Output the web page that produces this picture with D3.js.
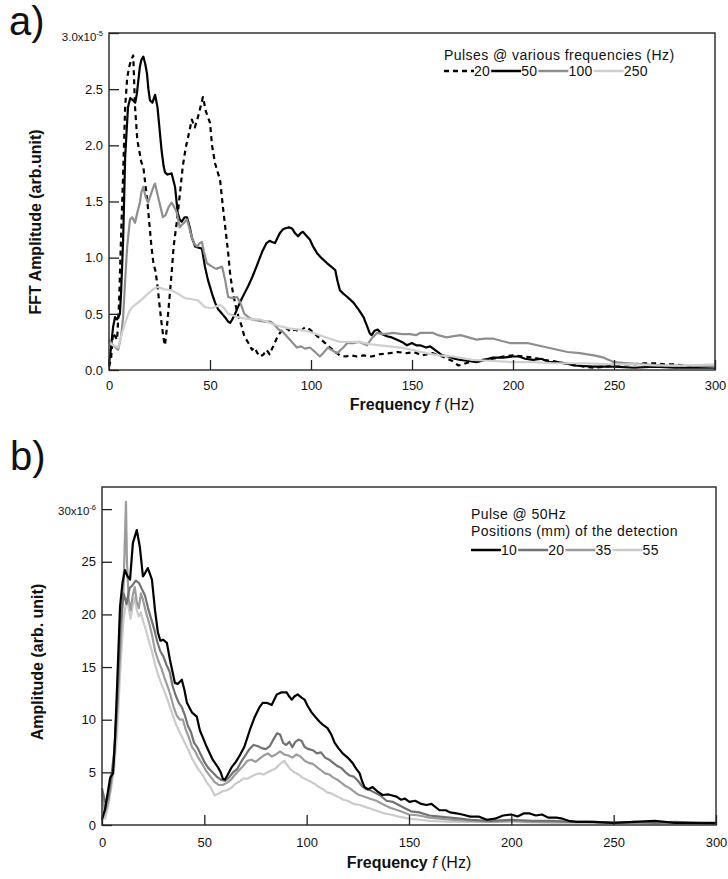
<!DOCTYPE html>
<html><head><meta charset="utf-8">
<script src="https://cdn.jsdelivr.net/npm/d3@7"></script>
<style>body{margin:0;background:#fff}svg{display:block}text{font-family:Arial,"Liberation Sans",sans-serif}</style>
</head><body>
<svg id="c" width="728" height="879"></svg>
<script>
// ---------- DATA ----------
const freqTicks = [0, 50, 100, 150, 200, 250, 300];
const ampTicksA = [0, 0.5, 1.0, 1.5, 2.0, 2.5, 3.0];   // x1e-5
const ampTicksB = [0, 5, 10, 15, 20, 25, 30];          // x1e-6

const legendA = ["20", "50", "100", "250"];
const legendB = ["10", "20", "35", "55"];

// Panel a) FFT amplitude (x1e-5) for pulses at various frequencies
const pulse20 = [[0,0.03],[1,0.1],[2,0.33],[3,0.3],[4,0.27],[5,0.6],[6,1.2],[7,1.75],[8,2.34],[9,2.6],[10,2.7],[11,2.76],[12,2.8],[12.9,2.34],[14,2.05],[15,1.95],[16,1.85],[17,1.81],[18,1.65],[19,1.5],[20,1.3],[21,1.1],[22,0.95],[23,0.88],[24,0.75],[25,0.58],[26,0.42],[27,0.28],[27.7,0.22],[28.5,0.35],[29.5,0.55],[31,0.86],[32,1.1],[33.5,1.31],[35,1.55],[36.5,1.81],[38,1.98],[39.5,2.1],[41,2.23],[42.5,2.16],[44,2.25],[45,2.32],[46.5,2.43],[48,2.3],[50,2.2],[51,2.0],[52.5,1.84],[54,1.75],[55,1.69],[56.4,1.45],[58,1.2],[59,1.04],[60,0.85],[61.4,0.68],[63,0.55],[64,0.48],[65.5,0.4],[67,0.3],[69,0.24],[70.8,0.18],[72,0.2],[73.5,0.15],[75,0.12],[76.5,0.14],[78,0.18],[79.5,0.14],[81,0.2],[83,0.28],[84.6,0.33],[86,0.36],[88,0.37],[90,0.34],[92,0.36],[94.5,0.34],[97,0.38],[99.5,0.36],[102,0.32],[104.4,0.28],[107,0.24],[109.4,0.2],[112,0.16],[114.3,0.13],[117,0.12],[120,0.13],[122.8,0.12],[126,0.13],[130,0.12],[134,0.14],[139,0.15],[143,0.16],[147.5,0.15],[151,0.16],[155,0.13],[160,0.15],[165,0.12],[170,0.08],[173,0.04],[175,0.05],[180,0.08],[185,0.09],[190,0.1],[195,0.12],[200,0.13],[205,0.12],[210,0.11],[215,0.09],[220,0.08],[225,0.06],[230,0.05],[235,0.03],[240,0.02],[245,0.03],[250,0.04],[255,0.05],[260,0.05],[265,0.06],[270,0.06],[275,0.05],[280,0.05],[285,0.04],[290,0.03],[295,0.03],[300,0.02]];
const pulse50 = [[0,0.05],[1,0.2],[2,0.38],[3,0.47],[4,0.45],[5.4,0.5],[6,0.7],[7,1.16],[8,1.9],[9.4,2.34],[10.5,2.42],[12,2.4],[13,2.38],[13.8,2.46],[15.3,2.7],[16,2.76],[17,2.79],[18,2.72],[18.8,2.64],[19.5,2.5],[20.3,2.4],[21.5,2.38],[22.8,2.45],[24,2.34],[25,2.15],[26,1.96],[27,1.82],[27.7,1.76],[29,1.74],[31,1.75],[32.7,1.63],[34,1.4],[35,1.34],[36,1.32],[37.5,1.36],[38.6,1.36],[40,1.27],[41,1.18],[42.6,1.1],[44,1.09],[46,1.08],[47.5,0.92],[49,0.8],[51,0.68],[52.5,0.6],[54,0.54],[56,0.5],[57.4,0.47],[59,0.43],[60,0.42],[61,0.45],[62.4,0.5],[64.8,0.6],[67,0.68],[69,0.75],[71,0.83],[73,0.92],[74.7,1.0],[76,1.06],[78,1.13],[79.5,1.15],[80.7,1.14],[82.2,1.13],[83.5,1.18],[84.6,1.22],[86,1.25],[87,1.26],[89,1.27],[90.6,1.26],[92,1.22],[93.6,1.19],[95,1.22],[96,1.23],[97.5,1.2],[99.5,1.16],[101,1.1],[103,1.04],[105,1.0],[108,0.95],[110,0.92],[112,0.89],[113,0.8],[114.3,0.71],[116,0.68],[118,0.65],[121,0.6],[123.5,0.54],[126,0.47],[128,0.38],[129,0.33],[130,0.31],[131.5,0.35],[133,0.36],[135,0.32],[137.6,0.3],[140,0.29],[142.6,0.27],[145,0.25],[147.5,0.22],[150,0.24],[152,0.22],[154,0.22],[157,0.2],[159,0.21],[162,0.17],[165,0.13],[168,0.12],[171,0.1],[174,0.09],[178,0.08],[182,0.07],[186,0.09],[190,0.11],[195,0.11],[200,0.12],[203,0.12],[206,0.1],[210,0.09],[214,0.1],[218,0.07],[222,0.07],[226,0.06],[230,0.04],[240,0.03],[250,0.03],[260,0.02],[270,0.03],[280,0.02],[290,0.02],[300,0.02]];
const pulse100 = [[0,0.27],[2,0.22],[4.5,0.18],[6,0.3],[7,0.47],[8,0.8],[9,1.1],[10.4,1.34],[11.5,1.36],[12.9,1.31],[14,1.4],[15.3,1.49],[16,1.58],[17,1.63],[18,1.55],[19.3,1.49],[20.5,1.55],[21.8,1.62],[22.8,1.66],[24.3,1.54],[25.5,1.45],[26.7,1.36],[28,1.38],[29.5,1.45],[31,1.49],[32.3,1.45],[33.6,1.4],[35,1.27],[36.5,1.3],[38.6,1.34],[40,1.25],[41,1.18],[42.3,1.12],[43.6,1.1],[45,1.13],[46,1.14],[47,1.05],[48.5,0.95],[51,0.92],[53,0.9],[56,0.92],[57.5,0.8],[59,0.65],[61,0.64],[63.4,0.65],[65,0.6],[67,0.5],[69,0.47],[70.8,0.45],[74,0.44],[77,0.43],[80,0.43],[82,0.4],[84,0.36],[86,0.34],[88,0.3],[90,0.26],[93,0.2],[95,0.21],[97,0.19],[99.5,0.2],[102,0.16],[104.4,0.12],[106,0.15],[108.4,0.2],[110,0.18],[113,0.15],[116,0.2],[118,0.24],[121,0.24],[124,0.25],[127.7,0.22],[130,0.28],[132.7,0.33],[136,0.32],[140.6,0.33],[145,0.32],[149,0.32],[152,0.31],[154,0.33],[157,0.33],[160.4,0.33],[163,0.31],[167,0.29],[170,0.3],[174,0.31],[178,0.29],[182,0.27],[186,0.28],[190,0.28],[194,0.26],[198.5,0.24],[203,0.24],[207,0.24],[212,0.22],[217,0.2],[222,0.18],[227,0.16],[233,0.15],[240,0.13],[245,0.11],[250,0.07],[257,0.06],[265,0.05],[275,0.04],[285,0.04],[300,0.03]];
const pulse250 = [[0,0.24],[2,0.22],[4.5,0.2],[6,0.3],[8,0.42],[10,0.52],[11.4,0.56],[14.4,0.6],[17,0.64],[19.3,0.68],[22,0.72],[24.3,0.74],[27,0.72],[31,0.71],[34,0.68],[37.6,0.64],[41,0.63],[44,0.62],[47.5,0.56],[51,0.55],[55,0.58],[57,0.55],[59,0.5],[61,0.49],[63.8,0.47],[67,0.46],[70.8,0.45],[74.7,0.45],[78,0.43],[81,0.41],[84.6,0.39],[89,0.37],[94.5,0.36],[99,0.34],[104.4,0.31],[109,0.28],[114.3,0.25],[119,0.25],[124,0.25],[129,0.23],[134,0.22],[139,0.21],[144,0.2],[150,0.18],[157,0.15],[163,0.13],[170,0.12],[180,0.09],[190,0.08],[200,0.07],[210,0.07],[220,0.06],[235,0.06],[250,0.05],[260,0.05],[270,0.04],[285,0.04],[300,0.05]];

// Panel b) amplitude (x1e-6) at detection positions, pulse 50 Hz
const pos10 = [[0,0.5],[1.5,1.5],[3,3.3],[4,4.5],[5.4,4.9],[6.3,8],[7.3,12.8],[8.8,20.7],[10,23],[11.2,24.2],[12.5,23.6],[13.7,23.3],[15.1,26.8],[17,28],[18.5,26.4],[20,23.6],[21,23.9],[22.4,24.4],[24.4,23.3],[25.9,20.4],[27.3,18.3],[28.5,17.5],[29.8,17.6],[31.7,17.3],[33.2,15.7],[35.6,13.5],[37,13.4],[39,13.8],[40.3,12.8],[41.5,11.6],[43.9,10.7],[46.3,10.3],[47.8,9.0],[49.5,8.2],[51.2,7.4],[54.1,6.2],[56.6,5.5],[58,5],[59,4.4],[60,4.3],[61.5,4.8],[63.4,5.5],[65.4,6.0],[67.3,6.6],[69.5,7.4],[72.2,9.0],[74.5,10.2],[77,11.2],[78.5,11.6],[80.5,11.6],[82.9,11.4],[85.4,12.4],[87.8,12.6],[90.2,12.6],[91.5,12.2],[92.7,11.9],[94,12.2],[95.6,12.4],[97.5,12.1],[99,11.9],[100.5,11.3],[102.4,10.7],[104.5,10.2],[106.3,9.8],[108,9.5],[110.2,9.2],[112,8.6],[113.7,7.8],[115.5,7.3],[117.6,6.8],[120,6.4],[122.4,5.9],[124,5.4],[125.9,4.9],[127,4.2],[128.3,3.6],[130,3.4],[132.2,3.6],[134.5,3.2],[137.1,2.85],[140,2.9],[143.9,2.7],[146,2.4],[148,2.5],[150.2,2.2],[153,2.3],[156,2.0],[158.5,1.9],[161,2.0],[164.9,1.4],[168,1.4],[170,1.2],[173.2,1.1],[176,1.0],[180,0.8],[184,0.8],[188,0.5],[192,0.6],[196,0.9],[200,1.0],[203,0.8],[206,1.1],[209,1.1],[212,0.9],[215,1.0],[218,0.7],[222,0.7],[225,0.6],[228,0.4],[232,0.3],[240,0.3],[250,0.2],[260,0.3],[270,0.4],[275,0.3],[280,0.2],[290,0.2],[300,0.2]];
const pos20 = [[0,3.5],[1.5,2.2],[3,2.5],[4.5,4.5],[6,7],[7.5,12],[9,19],[10.5,22],[12,21],[13.5,22.5],[15,22.8],[16.5,23.2],[18,23],[19.5,22.4],[21,21.8],[22.5,20.6],[24,19.6],[25.5,18.6],[27,17.4],[28.5,16.5],[30,16],[31.5,15.2],[33,14.6],[34.5,13.2],[36,12.3],[37.5,11.6],[39,11.2],[40.5,10.4],[42,9.4],[43.5,8.8],[45,7.8],[46.5,7.4],[48,6.8],[50,6.0],[52,5.4],[54,5.0],[56,4.6],[58,4.3],[60,4.2],[62,4.5],[64,5.0],[66,5.3],[68,6.0],[70,6.6],[72,7.2],[74,7.6],[76,7.5],[78,7.3],[80,7.2],[82,7.5],[84,8.2],[85.5,8.7],[87,8.6],[88.5,7.8],[90,7.6],[91.5,7.9],[93,7.4],[94.5,7.9],[96,8.1],[97.5,8.0],[99,7.4],[101,7.2],[103,7.1],[105,6.8],[107,6.9],[109,6.4],[111,6.2],[113,5.9],[115,5.6],[117,5.4],[119,5.0],[121,4.7],[123,4.6],[125,4.2],[127,3.7],[129,3.4],[131,3.3],[133,3.1],[136,2.8],[139,2.3],[142,2.2],[145,1.9],[148,1.6],[151,1.3],[155,1.2],[160,0.9],[165,0.8],[170,0.7],[175,0.6],[180,0.5],[190,0.4],[200,0.5],[210,0.4],[220,0.4],[230,0.3],[240,0.3],[250,0.2],[260,0.3],[270,0.2],[280,0.3],[290,0.2],[300,0.1]];
const pos35 = [[0,3],[1.5,1.2],[3,2.2],[4.5,4],[6,6.5],[7.5,11],[9,17],[10.5,22.5],[11.3,28],[11.7,30.7],[12.2,25],[13,21.5],[14,20.4],[15,21.8],[16,22.6],[17,21.2],[18,20.6],[19,22],[20,21.4],[21.5,20.2],[23,19.2],[24.5,18],[26,16.5],[27.5,15.6],[29,14.9],[30.5,14],[32,13.2],[33.5,12.3],[35,11.2],[36.5,10.4],[38,10.0],[39.5,10.0],[41,9.0],[42.5,8.3],[44,7.4],[45.5,7.0],[47,6.4],[49,5.8],[51,5.1],[53,4.6],[55,4.1],[57,3.8],[59,3.8],[61,4.0],[63,4.3],[65,4.8],[67,5.2],[69,5.6],[71,6.1],[73,6.2],[75,6.0],[77,6.3],[79,6.6],[81,6.8],[83,6.5],[85,6.7],[87,7.0],[89,6.7],[91,6.6],[93,6.4],[95,6.7],[97,6.5],[99,6.1],[101,5.9],[103,5.8],[105,5.5],[107,5.2],[109,4.9],[111,4.8],[113,4.5],[115,4.3],[117,4.0],[119,3.7],[121,3.5],[123,3.2],[125,2.9],[128,2.7],[131,2.5],[134,2.3],[137,2.0],[140,1.7],[143,1.5],[146,1.3],[150,1.0],[155,0.9],[160,0.7],[165,0.6],[170,0.5],[180,0.4],[190,0.3],[200,0.4],[210,0.3],[220,0.3],[235,0.3],[250,0.2],[265,0.2],[280,0.2],[300,0.1]];
const pos55 = [[0,2.5],[1.5,0.6],[3,1.8],[4.5,3.5],[6,5.5],[7.5,9],[9,15],[10.5,19.5],[12,21.5],[13,20.6],[14,19.6],[15,20.8],[16,21.6],[17,20.4],[18,19.8],[19,20.2],[20,19.4],[21.5,18.5],[23,17.4],[24.5,16.4],[26,15.2],[27.5,14.2],[29,13.4],[30.5,12.7],[32,11.9],[33.5,11.0],[35,10.2],[36.5,9.4],[38,8.8],[39.5,8.2],[41,7.6],[42.5,7.0],[44,6.3],[45.5,5.8],[47,5.3],[49,4.8],[51,4.1],[53,3.6],[55,2.8],[57,3.0],[59,3.2],[61,3.3],[63,3.5],[65,3.9],[67,4.1],[69,4.4],[71,4.4],[73,4.6],[75,4.8],[77,4.9],[79,4.8],[81,5.0],[83,5.2],[85,5.4],[87,5.8],[89,6.1],[90.5,5.7],[92,5.3],[94,5.0],[96,4.8],[98,4.5],[100,4.3],[102,4.1],[104,3.9],[106,3.6],[108,3.4],[110,3.1],[112,3.0],[114,2.8],[116,2.6],[118,2.4],[120,2.3],[123,2.0],[126,1.9],[129,1.7],[132,1.5],[135,1.3],[138,1.1],[141,1.0],[145,0.8],[150,0.6],[155,0.5],[160,0.4],[170,0.3],[180,0.3],[200,0.3],[220,0.2],[250,0.2],[280,0.1],[300,0.1]];

// ---------- DRAW ----------
const svg = d3.select("#c");

const panels = [
  {
    left: 109, right: 715, top: 33, bottom: 370, yMax: 3.0, yTicks: ampTicksA,
    topLabel: "3.0x10", sup: "-5", fmt: d => d.toFixed(1), topDy: 4,
    series: [
      {data: pulse20, color: "#000", width: 2.2, dash: "5,4"},
      {data: pulse50, color: "#000", width: 2.2, dash: null},
      {data: pulse100, color: "#8e8e8e", width: 2.2, dash: null},
      {data: pulse250, color: "#cfcfcf", width: 2.2, dash: null}
    ],
    ytitle: "FFT Amplitude (arb.unit)", ytitleX: 41, ytitleY: 222,
    xlabY: 390, xtitleY: 410,
    legendTitle: ["Pulses @ various frequencies (Hz)"], legendX: 444, legendTitleY: 60, legendRowY: 71,
    legendNames: legendA
  },
  {
    left: 102, right: 716, top: 487, bottom: 825, yMax: 32.1, yTicks: ampTicksB,
    topLabel: "30x10", sup: "-6", fmt: d => String(d), topDy: 2,
    series: [
      {data: pos55, color: "#cbcbcb", width: 2.2, dash: null},
      {data: pos35, color: "#9c9c9c", width: 2.2, dash: null},
      {data: pos20, color: "#727272", width: 2.2, dash: null},
      {data: pos10, color: "#000", width: 2.2, dash: null}
    ],
    legendOrder: [3, 2, 1, 0],
    ytitle: "Amplitude (arb. unit)", ytitleX: 43, ytitleY: 662,
    xlabY: 847, xtitleY: 868,
    legendTitle: ["Pulse @ 50Hz", "Positions (mm) of the detection"], legendX: 471, legendTitleY: 519, legendRowY: 550,
    legendNames: legendB
  }
];

panels.forEach(p => {
  const x = d3.scaleLinear().domain([0, 300]).range([p.left, p.right]);
  const y = d3.scaleLinear().domain([0, p.yMax]).range([p.bottom, p.top]);
  const g = svg.append("g");

  // series
  const line = d3.line().x(d => x(d[0])).y(d => y(d[1]));
  p.series.forEach(s => {
    g.append("path").datum(s.data).attr("d", line)
      .attr("fill", "none").attr("stroke", s.color).attr("stroke-width", s.width)
      .attr("stroke-linejoin", "round")
      .attr("stroke-dasharray", s.dash);
  });

  // frame
  g.append("rect").attr("x", p.left).attr("y", p.top)
    .attr("width", p.right - p.left).attr("height", p.bottom - p.top)
    .attr("fill", "none").attr("stroke", "#333").attr("stroke-width", 1.5);

  // x axis
  const xa = g.append("g").attr("transform", `translate(0,${p.bottom})`)
    .call(d3.axisBottom(x).tickValues(freqTicks).tickSizeInner(-10).tickSizeOuter(0).tickPadding(0));
  xa.select(".domain").remove();
  xa.selectAll(".tick line").attr("stroke", "#222").attr("stroke-width", 1.3);
  xa.selectAll(".tick text").attr("y", p.xlabY - p.bottom).attr("dy", 0)
    .attr("font-size", 13).attr("fill", "#111")
    .attr("font-family", "Arial, 'Liberation Sans', sans-serif");

  // y axis
  const ya = g.append("g").attr("transform", `translate(${p.left},0)`)
    .call(d3.axisLeft(y).tickValues(p.yTicks).tickSizeInner(-10).tickSizeOuter(0).tickPadding(6)
      .tickFormat((d, i) => i === p.yTicks.length - 1 ? p.topLabel : p.fmt(d)));
  ya.select(".domain").remove();
  ya.selectAll(".tick line").attr("stroke", "#222").attr("stroke-width", 1.3);
  ya.selectAll(".tick text").attr("font-size", 13).attr("fill", "#111")
    .attr("font-family", "Arial, 'Liberation Sans', sans-serif");
  const topT = ya.selectAll(".tick text").filter((d, i) => i === p.yTicks.length - 1);
  topT.attr("font-size", 11.5).attr("dy", `${0.32 + p.topDy / 11.5}em`);
  topT.append("tspan").attr("dy", -5).attr("font-size", 7.5).text(p.sup);

  // y title
  g.append("text").attr("transform", `translate(${p.ytitleX},${p.ytitleY}) rotate(-90)`)
    .attr("text-anchor", "middle").attr("font-size", 16).attr("font-weight", "bold").attr("fill", "#111")
    .text(p.ytitle);

  // x title
  const xt = g.append("text").attr("x", (p.left + p.right) / 2).attr("y", p.xtitleY)
    .attr("text-anchor", "middle").attr("font-size", 16).attr("fill", "#111");
  xt.append("tspan").attr("font-weight", "bold").text("Frequency ");
  xt.append("tspan").attr("font-style", "italic").text("f");
  xt.append("tspan").text(" (Hz)");

  // legend
  p.legendTitle.forEach((t, i) => {
    g.append("text").attr("x", p.legendX).attr("y", p.legendTitleY + i * 17)
      .attr("font-size", 14).attr("fill", "#111").attr("letter-spacing", 0.45).text(t);
  });
  let lx = p.legendX;
  const order = p.legendOrder || [0, 1, 2, 3];
  order.forEach((si, k) => {
    const s = p.series[si];
    g.append("line").attr("x1", lx).attr("x2", lx + 30).attr("y1", p.legendRowY).attr("y2", p.legendRowY)
      .attr("stroke", s.color).attr("stroke-width", 2.5).attr("stroke-dasharray", s.dash);
    const tx = g.append("text").attr("x", lx + 30).attr("y", p.legendRowY + 5)
      .attr("font-size", 14).attr("fill", "#111").attr("letter-spacing", 0.3).text(p.legendNames[k]);
    lx += 30 + tx.node().getComputedTextLength() + 1;
  });
});

// panel labels
svg.append("text").attr("x", 9).attr("y", 35).attr("font-size", 40).attr("fill", "#111")
  .attr("font-family", "'Open Sans', 'Noto Sans', sans-serif").text("a)");
svg.append("text").attr("x", 10).attr("y", 470).attr("font-size", 40).attr("fill", "#111")
  .attr("font-family", "'Open Sans', 'Noto Sans', sans-serif").text("b)");
</script>
</body></html>
